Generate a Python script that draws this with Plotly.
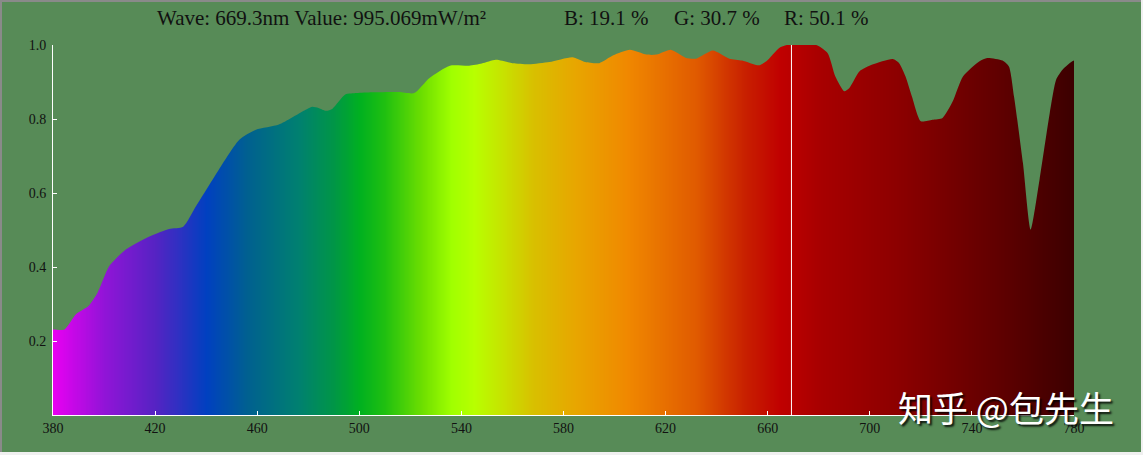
import plotly.graph_objects as go

# ---- data ----
wavelengths = [380, 384.5, 389, 394, 397.5, 402, 408.5, 418, 425.5, 431, 436, 442.5, 453, 459.5,
               468.5, 479, 481.5, 484, 487, 489.5, 494.5, 499, 505, 515.5, 521.5, 527.5, 535.5,
               543, 548, 553.5, 560, 566.5, 574.5, 583.5, 588.5, 594, 599.5, 606, 612.5, 616.5,
               622, 628, 632, 638.5, 645, 650, 656.5, 659.5, 664.5, 667.5, 679, 683.5, 686.5,
               690, 692, 696, 701, 709, 711.5, 714, 716.5, 720, 724.5, 728.5, 732.5, 736.5, 743,
               746, 752, 754.5, 756.5, 760, 763, 766.5, 770.5, 773, 775.5, 780]
values = [0.231, 0.231, 0.272, 0.295, 0.331, 0.402, 0.447, 0.483, 0.503, 0.509, 0.564, 0.636,
          0.744, 0.771, 0.785, 0.825, 0.833, 0.830, 0.822, 0.828, 0.866, 0.870, 0.872, 0.873,
          0.870, 0.911, 0.944, 0.944, 0.950, 0.960, 0.951, 0.948, 0.954, 0.967, 0.954, 0.951,
          0.972, 0.987, 0.974, 0.974, 0.987, 0.965, 0.963, 0.985, 0.963, 0.958, 0.945, 0.956,
          0.992, 1.0, 1.0, 0.978, 0.915, 0.875, 0.884, 0.929, 0.947, 0.962, 0.951, 0.915, 0.861,
          0.794, 0.798, 0.803, 0.848, 0.915, 0.956, 0.965, 0.958, 0.942, 0.861, 0.681, 0.501,
          0.636, 0.816, 0.906, 0.933, 0.958]

# spectrum colour stops (nm, colour)
color_nm = [380, 400, 420, 440, 456, 476, 490, 500, 510, 525, 536, 545, 557, 568, 585, 605,
            632, 651, 665, 680, 711, 750, 780]
color_rgb = ["rgb(232,0,242)", "rgb(145,20,215)", "rgb(85,35,195)", "rgb(0,64,192)",
             "rgb(0,96,144)", "rgb(0,128,112)", "rgb(0,150,70)", "rgb(0,176,32)",
             "rgb(32,192,16)", "rgb(112,224,0)", "rgb(160,255,0)", "rgb(184,255,0)",
             "rgb(200,224,0)", "rgb(216,192,0)", "rgb(232,165,0)", "rgb(240,136,0)",
             "rgb(224,90,0)", "rgb(200,32,0)", "rgb(192,0,0)", "rgb(168,0,0)",
             "rgb(140,0,0)", "rgb(96,0,0)", "rgb(60,0,0)"]

x_ticks = [380, 420, 460, 500, 540, 580, 620, 660, 700, 740, 780]
y_ticks = [0.2, 0.4, 0.6, 0.8, 1.0]
y_tick_text = ["0.2", "0.4", "0.6", "0.8", "1.0"]

cursor_nm = 669.3
header_left = "Wave: 669.3nm Value: 995.069mW/m\u00b2"
header_parts = ["B: 19.1 %", "G: 30.7 %", "R: 50.1 %"]
header_part_px = [562, 672, 782]
watermark = "知乎 @包先生"

BG = "#578b57"
XMIN, XMAX = 380, 780
YMIN, YMAX = 0, 1.0

W, H = 1143, 455
ML, MR, MT, MB = 53, 69, 45, 40
PW, PH = W - ML - MR, H - MT - MB


def px(xp):
    return (xp - ML) / PW


def py(yp):
    return (H - MB - yp) / PH


lo, hi = color_nm[0], color_nm[-1]
colorscale = [[(n - lo) / (hi - lo), c] for n, c in zip(color_nm, color_rgb)]

grid = list(range(XMIN, XMAX + 1))

fig = go.Figure()

# gradient underlay
fig.add_trace(go.Heatmap(
    x=grid, y=[YMIN, YMAX], z=[grid, grid], colorscale=colorscale,
    zmin=lo, zmax=hi, showscale=False, hoverinfo="skip", zsmooth="best",
))

# mask above the curve with the background colour
mx = [XMIN - 10] + wavelengths + [XMAX + 10, XMAX + 10, XMIN - 10]
my = [values[0]] + values + [values[-1], YMAX + 0.3, YMAX + 0.3]
fig.add_trace(go.Scatter(
    x=mx, y=my, mode="lines", fill="toself", fillcolor=BG,
    line=dict(width=0, color=BG, shape="spline", smoothing=0.6), hoverinfo="skip",
))

# cursor line
fig.add_shape(type="line", x0=cursor_nm, x1=cursor_nm, y0=YMIN, y1=YMAX,
              line=dict(color="white", width=1))

tick_font = dict(family="Liberation Serif", size=14, color="#111111")
fig.update_xaxes(range=[XMIN, XMAX], showgrid=False, zeroline=False, showline=True,
                 linecolor="white", linewidth=1, ticks="inside", ticklen=4, tickcolor="white",
                 tickvals=x_ticks, tickfont=tick_font, mirror=False)
fig.update_yaxes(range=[YMIN, YMAX], showgrid=False, zeroline=False, showline=True,
                 linecolor="white", linewidth=1, ticks="inside", ticklen=4, tickcolor="white",
                 tickvals=y_ticks, ticktext=y_tick_text, tickfont=tick_font, ticklabelstandoff=3)

hfont = dict(family="Liberation Serif", size=21, color="#111111")
annotations = [
    dict(text=header_left, x=px(155), y=py(18), xref="paper", yref="paper",
         xanchor="left", yanchor="middle", showarrow=False, font=hfont),
]
for t, p in zip(header_parts, header_part_px):
    annotations.append(dict(text=t, x=px(p), y=py(18), xref="paper", yref="paper",
                            xanchor="left", yanchor="middle", showarrow=False, font=hfont))
annotations.append(
    dict(text=watermark, x=px(1006), y=py(406), xref="paper", yref="paper",
         xanchor="center", yanchor="middle", showarrow=False,
         font=dict(family="Noto Sans CJK SC", size=35, color="white",
                   shadow="2px 2px 2px rgba(0,0,0,0.85)")))

# window frame edges
frame = [
    dict(type="rect", xref="paper", yref="paper", x0=px(0), x1=px(2), y0=py(H), y1=py(0),
         fillcolor="#8a8a8a", line=dict(width=0)),
    dict(type="rect", xref="paper", yref="paper", x0=px(0), x1=px(W), y0=py(2), y1=py(0),
         fillcolor="#8a8a8a", line=dict(width=0)),
    dict(type="rect", xref="paper", yref="paper", x0=px(W - 2), x1=px(W), y0=py(H), y1=py(0),
         fillcolor="#f0f0f0", line=dict(width=0)),
    dict(type="rect", xref="paper", yref="paper", x0=px(0), x1=px(W), y0=py(H), y1=py(H - 3),
         fillcolor="#f0f0f0", line=dict(width=0)),
]
for s in frame:
    fig.add_shape(**s)

fig.update_layout(
    width=W, height=H, margin=dict(l=ML, r=MR, t=MT, b=MB, pad=0),
    paper_bgcolor=BG, plot_bgcolor=BG, showlegend=False, annotations=annotations,
)

fig.write_html("out.html", config={"displayModeBar": False},
               post_script="document.body.style.margin='0';document.body.style.overflow='hidden';")
